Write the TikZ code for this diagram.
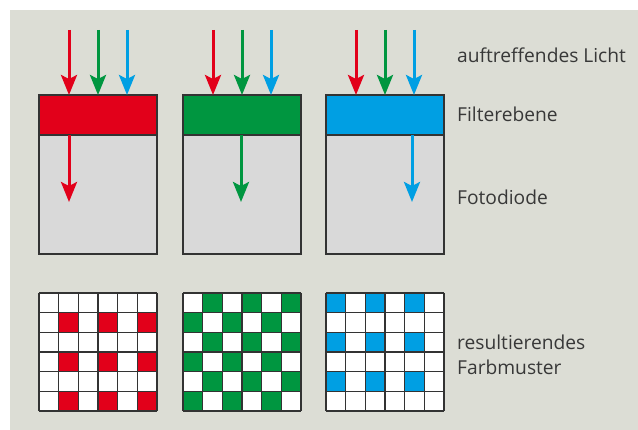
\documentclass[tikz,border=0pt]{standalone}
\usepackage{fontspec}
\setmainfont{Open Sans}
\usetikzlibrary{arrows.meta}
\definecolor{bg}{HTML}{DCDDD5}
\definecolor{fred}{HTML}{E2001A}
\definecolor{fgreen}{HTML}{009640}
\definecolor{fblue}{HTML}{009FE3}
\definecolor{diode}{HTML}{D9D9D9}
\definecolor{edge}{HTML}{333333}
\definecolor{txt}{HTML}{383838}

\begin{document}
\begin{tikzpicture}[x=1pt,y=-1pt,
  diodebox/.style={draw=edge,line width=1.3pt,fill=diode,minimum width=118pt,minimum height=119pt,inner sep=0pt,outer sep=0pt,anchor=north west},
  filterbox/.style={draw=edge,line width=1.3pt,fill=#1,minimum width=118pt,minimum height=40pt,inner sep=0pt,outer sep=0pt,anchor=north west},
  ray/.style={draw=#1,line width=3pt,-{Stealth[length=20pt,width=16pt,inset=4pt]}},
  caption/.style={text=txt,anchor=base west,inner sep=0pt,font=\fontsize{19.2}{25}\selectfont},
  gridline/.style={draw=edge,line width=1.1pt}
]
% canvas
\useasboundingbox (0,0) rectangle (638,430);
\fill[bg] (10,10) rectangle (638,430);

% photodiodes and filter layers
\foreach \n/\x/\c in {1/39/fred,2/183/fgreen,3/326/fblue}{
  \node[diodebox] (d\n) at (\x,135) {};
  \node[filterbox=\c] (f\n) at (\x,95) {};
}

% incoming light: three colours above each filter
\foreach \n/\x in {1/69,2/213,3/356}{
  \coordinate (r\n) at (\x,30);
  \coordinate (g\n) at (\x+29,30);
  \coordinate (b\n) at (\x+58,30);
  \draw[ray=fred] (r\n) -- (r\n |- f\n.north);
  \draw[ray=fgreen] (g\n) -- (g\n |- f\n.north);
  \draw[ray=fblue] (b\n) -- (b\n |- f\n.north);
}

% transmitted light inside the photodiodes
\coordinate (t1) at (69,135);
\coordinate (t2) at (241,135);
\coordinate (t3) at (412,135);
\coordinate (e1) at (69,202);
\coordinate (e2) at (241,202);
\coordinate (e3) at (412,202);
\draw[ray=fred] (t1) -- (e1);
\draw[ray=fgreen] (t2) -- (e2);
\draw[ray=fblue] (t3) -- (e3);

% colour patterns (6x6 cells)
\def\cs{19.67}
\foreach \gx/\gc/\kind in {39/fred/0,183/fgreen/1,326/fblue/2}{
  \fill[white] (\gx,293) rectangle ++(118,118);
  \foreach \i in {0,...,5}{
    \foreach \j in {0,...,5}{
      \pgfmathtruncatemacro{\on}{
        (\kind==0)*(and(mod(\i,2)==1,mod(\j,2)==1))
        +(\kind==1)*(mod(\i+\j,2)==1)
        +(\kind==2)*(and(mod(\i,2)==0,mod(\j,2)==0))}
      \ifnum\on=1
        \fill[\gc] (\gx+\j*\cs,293+\i*\cs) rectangle ++(\cs,\cs);
      \fi
    }
  }
  \foreach \k in {0,...,6}{
    \draw[gridline] (\gx+\k*\cs,293) -- ++(0,118);
    \draw[gridline] (\gx,293+\k*\cs) -- ++(118,0);
  }
}

% labels
\node[caption] (l1) at (457,63) {auftreffendes Licht};
\node[caption] (l2) at (457,122) {Filterebene};
\node[caption] (l3) at (457,205) {Fotodiode};
\node[caption] (l4) at (457,350) {resultierendes};
\node[caption] (l5) at (457,375) {Farbmuster};
\end{tikzpicture}
\end{document}
